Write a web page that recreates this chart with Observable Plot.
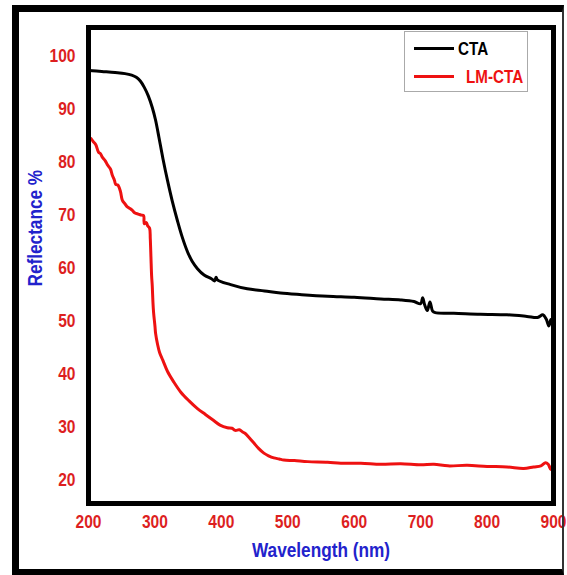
<!DOCTYPE html>
<html>
<head>
<meta charset="utf-8">
<script src="https://cdn.jsdelivr.net/npm/d3@7"></script>
<script src="https://cdn.jsdelivr.net/npm/@observablehq/plot@0.6"></script>
<style>
  html, body { margin: 0; padding: 0; background: white; }
  #wrap { position: relative; width: 567px; height: 575px; overflow: hidden; }
  #outer { position: absolute; left: 12px; top: 5px; width: 552px; height: 570px; box-sizing: border-box;
           border-left: 7px solid #000; border-top: 7px solid #000; border-bottom: 6px solid #000; border-right: 2px solid #333; pointer-events: none; }
  #legend { position: absolute; left: 404px; top: 31px; width: 124px; height: 61px; box-sizing: border-box;
            border: 1px solid #aaa; background: white;
            font-family: "Liberation Sans", Arial, sans-serif; font-weight: bold; font-size: 19px; }
  .row { position: absolute; left: 0; height: 20px; width: 100%; }
  .sw { position: absolute; left: 9px; top: 8px; width: 40px; height: 3px; }
  .lb { position: absolute; top: 0; line-height: 20px; white-space: nowrap; transform: scaleX(0.8); transform-origin: left center; }
</style>
</head>
<body>
<div id="wrap"></div>
<script>
// ---- data ----
const ctaWavelength = [200,220,240,255,265,272,278,284,290,296,301,306,312,319,326,334,341,349,356,364,374,385,390,392,394,414,439,465,489,521,560,600,640,670,690,700,703,706,710,714,718,722,750,790,830,860,876,884,889,893,896,898,900];
const ctaReflectance = [97.2,97.0,96.8,96.6,96.3,95.9,95.2,94.0,92.4,90.2,87.8,84.6,80.6,76.4,72.6,68.8,65.8,63.0,61.2,59.8,58.6,57.9,57.5,58.2,57.7,56.8,56.0,55.6,55.2,54.9,54.6,54.4,54.1,53.9,53.6,53.2,54.3,53.0,51.9,53.5,51.8,51.5,51.4,51.2,51.1,50.8,50.6,51.1,50.3,49.0,50.2,49.4,50.9];

const lmWavelength = [200,203,207,211,215,218,221,225,229,233,236,239,241,244,248,251,255,259,263,266,270,275,280,283,284,287,289,292,293,294,295,296,297,298,300,301,304,307,312,319,328,339,351,364,376,388,398,409,416,421,427,432,436,442,449,456,464,471,479,487,494,510,530,560,580,610,640,670,700,720,741,770,800,830,855,870,881,888,892,896,900];
const lmReflectance = [84.2,84.4,83.8,83.2,81.8,81.5,80.8,80.2,79.3,78.6,77.4,76.5,75.7,75.6,74.4,72.7,72.0,71.4,71.1,70.8,70.3,70.1,69.9,69.8,68.3,68.5,67.9,67.4,65.5,62.0,58.5,56.5,53.5,51.5,49.0,47.6,45.5,44.0,42.5,40.4,38.5,36.5,34.9,33.4,32.3,31.2,30.3,29.8,29.7,29.3,29.4,29.0,28.7,27.9,26.9,25.9,25.0,24.5,24.1,23.9,23.7,23.6,23.4,23.3,23.1,23.1,22.9,23.0,22.8,22.9,22.6,22.7,22.5,22.4,22.1,22.4,22.6,23.2,22.9,21.9,23.9];

const xTicks = [200,300,400,500,600,700,800,900];
const yTicks = [20,30,40,50,60,70,80,90,100];
const seriesNames = ["CTA", "LM-CTA"];
const seriesColors = ["#000000", "#ee1111"];
const xTitle = "Wavelength (nm)";
const yTitle = "Reflectance %";

const cta = ctaWavelength.map((w, i) => ({w, r: ctaReflectance[i]}));
const lm = lmWavelength.map((w, i) => ({w, r: lmReflectance[i]}));

const FONT = '"Liberation Sans", Arial, sans-serif';
const tickRed = "#dd1f1f";
const blue = "#2222cc";

const chart = Plot.plot({
  width: 567,
  height: 575,
  marginLeft: 88,
  marginRight: 14,
  marginTop: 27,
  marginBottom: 72,
  style: {fontFamily: FONT, background: "white", overflow: "visible"},
  x: {domain: [200, 900], label: null},
  y: {domain: [15.5, 105.3], label: null},
  marks: [
    Plot.line(cta, {x: "w", y: "r", stroke: seriesColors[0], strokeWidth: 3, curve: "catmull-rom"}),
    Plot.line(lm, {x: "w", y: "r", stroke: seriesColors[1], strokeWidth: 3, curve: "catmull-rom"}),
    Plot.frame({stroke: "black", strokeWidth: 5}),
    Plot.axisX({ticks: xTicks, tickSize: 0, tickPadding: 11, fill: tickRed, fontSize: 19, fontWeight: "bold", label: null}),
    Plot.axisY({ticks: yTicks, tickSize: 0, tickPadding: 13, fill: tickRed, fontSize: 19, fontWeight: "bold", label: null}),
    Plot.text([xTitle], {text: d => d, frameAnchor: "bottom", dy: 53, fill: blue, fontSize: 21, fontWeight: "bold"}),
    Plot.text([yTitle], {text: d => d, frameAnchor: "left", rotate: -90, dx: -53, dy: 21, fill: blue, fontSize: 21, fontWeight: "bold"})
  ]
});

// emulate the narrow bold typeface of the reference by condensing text horizontally
d3.select(chart).selectAll("text").each(function () {
  const t = this.getAttribute("transform");
  if (t) {
    this.setAttribute("transform", t + " scale(0.82,1)");
  } else {
    const x = +(this.getAttribute("x") || 0), y = +(this.getAttribute("y") || 0);
    this.removeAttribute("x"); this.removeAttribute("y");
    this.setAttribute("transform", `translate(${x},${y}) scale(0.82,1)`);
  }
});

const wrap = document.getElementById("wrap");
wrap.appendChild(chart);
const outer = document.createElement("div");
outer.id = "outer";
wrap.appendChild(outer);

const legend = document.createElement("div");
legend.id = "legend";
seriesNames.forEach((name, i) => {
  const row = document.createElement("div");
  row.className = "row";
  row.style.top = (7 + i * 28) + "px";
  const sw = document.createElement("div");
  sw.className = "sw";
  sw.style.background = seriesColors[i];
  const lb = document.createElement("div");
  lb.className = "lb";
  lb.style.left = (i === 0 ? 53 : 61) + "px";
  lb.style.color = i === 0 ? "#000" : "#ee1111";
  lb.textContent = name;
  row.appendChild(sw);
  row.appendChild(lb);
  legend.appendChild(row);
});
wrap.appendChild(legend);
</script>
</body>
</html>
